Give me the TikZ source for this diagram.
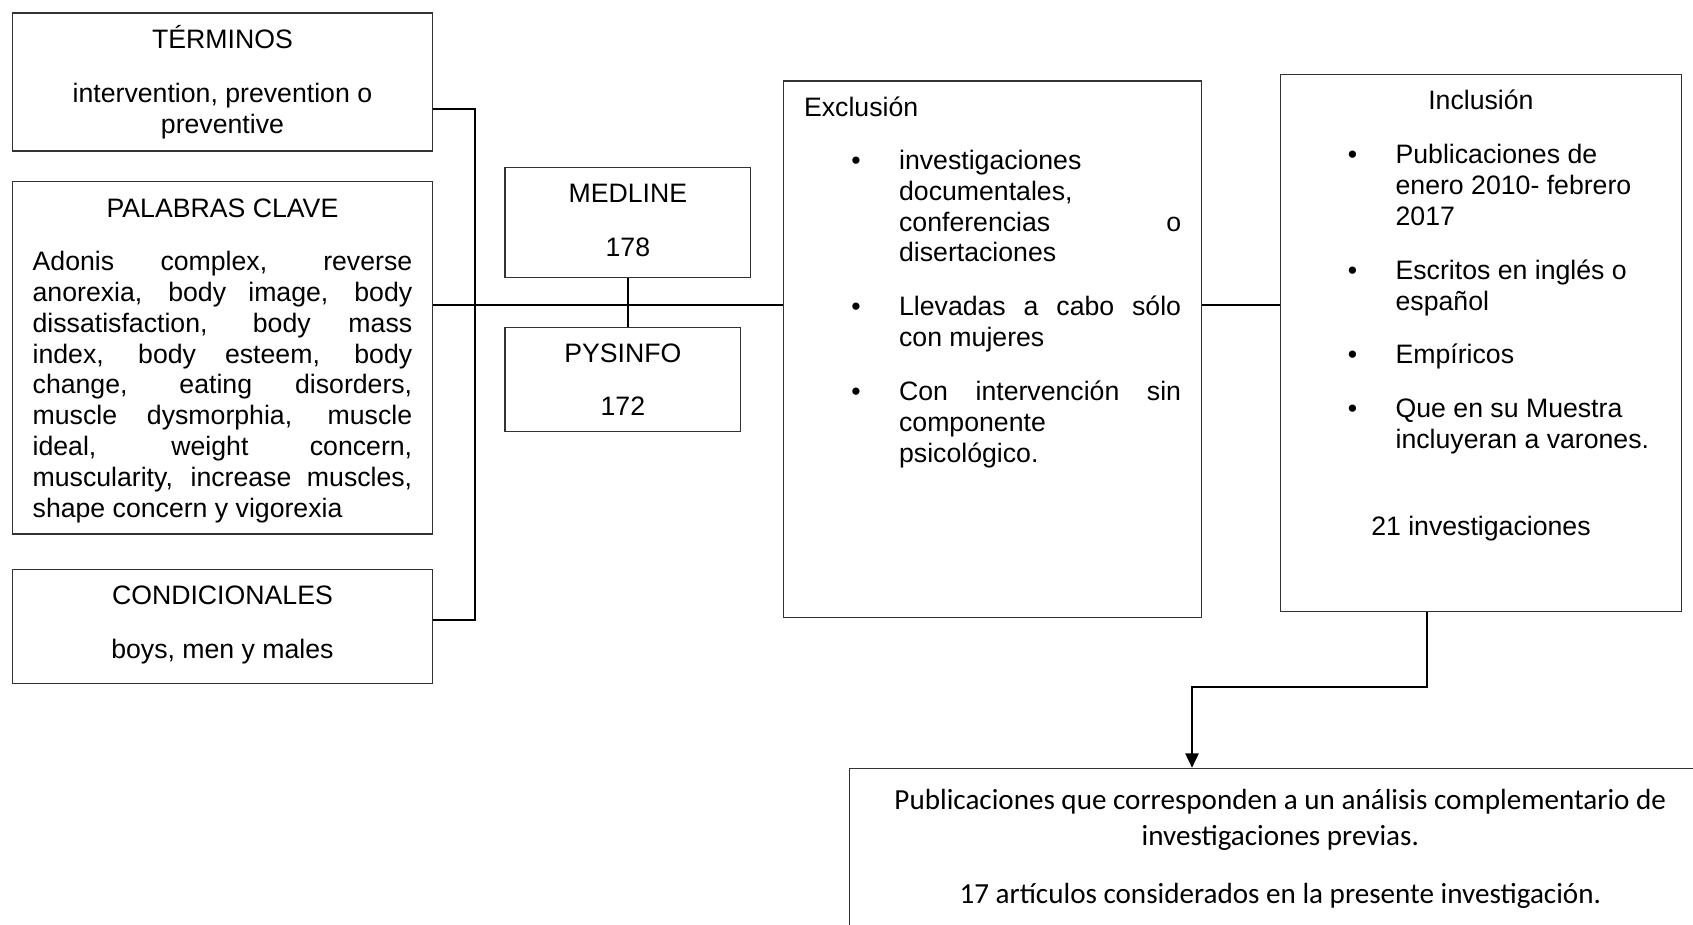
\documentclass[tikz,border=0pt]{standalone}
\usepackage{fontspec}
\setmainfont{Liberation Sans}
\newfontfamily\calibri{Carlito}
\usetikzlibrary{arrows.meta}

\newcommand{\nat}{\spaceskip=\fontdimen2\font\xspaceskip=\fontdimen2\font\relax}
\newcommand{\bul}{\makebox[42.75pt][l]{\hspace{21.3pt}\textbullet}}
\newcommand{\ind}{\hspace*{42.75pt}}
\newcommand{\jl}[1]{\makebox[\linewidth][s]{\spaceskip=.278em plus 1fil\relax#1}}
\newcommand{\jb}[1]{\makebox[126.9pt][s]{\spaceskip=.278em plus 1fil\relax#1}}

\begin{document}
\begin{tikzpicture}[x=0.45pt,y=-0.45pt,
    box/.style={draw=black!80,line width=0.6pt,anchor=north west,inner ysep=0pt,inner xsep=9pt,
      align=left,font=\fontsize{12}{13.9}\selectfont},
    link/.style={line width=0.9pt}]
        \useasboundingbox (0,0) rectangle (1693,925);
        \clip (0,0) rectangle (1693,925);
        \node[box,align=center,text width=170.8pt,text height=15.75pt,text depth=46.35pt] (term) at (12,12.5)
          {\nat TÉRMINOS\\[10.5pt]intervention, prevention o\\preventive};
        \node[box,text width=170.8pt,text height=16pt,text depth=142.5pt] (pal) at (12,181)
          {\nat\makebox[\linewidth]{PALABRAS CLAVE}\\[10pt]
           \jl{Adonis complex, reverse}\\\jl{anorexia, body image, body}\\
           \jl{dissatisfaction, body mass}\\\jl{index, body esteem, body}\\
           \jl{change, eating disorders,}\\\jl{muscle dysmorphia, muscle}\\
           \jl{ideal, weight concern,}\\\jl{muscularity, increase muscles,}\\
           shape concern y vigorexia};
        \node[box,align=center,text width=170.8pt,text height=15.75pt,text depth=35.55pt] (cond) at (12,568.5)
          {\nat CONDICIONALES\\[10.5pt]boys, men y males};
        \node[box,align=center,text width=92.6pt,text height=16pt,text depth=33.5pt] (med) at (504.3,166.7)
          {\nat MEDLINE\\[10pt]178};
        \node[box,align=center,text width=88.1pt,text height=15.75pt,text depth=31.05pt] (pys) at (504.3,326.7)
          {\nat PYSINFO\\[10pt]172};
        \node[box,inner xsep=9.2pt,text width=169.7pt,text height=15.75pt,text depth=225.45pt] (excl) at (783,80.5)
          {\nat Exclusión\\[10pt]
           \bul investigaciones\\\ind documentales,\\\ind\jb{conferencias o}\\\ind disertaciones\\[10.3pt]
           \bul\jb{Llevadas a cabo sólo}\\\ind con mujeres\\[10.3pt]
           \bul\jb{Con intervención sin}\\\ind componente\\\ind psicológico.};
        \node[box,inner xsep=9.2pt,text width=162.3pt,text height=15.75pt,text depth=225.9pt] (incl) at (1279.5,74)
          {\nat\makebox[\linewidth]{Inclusión}\\[10.4pt]
           \bul Publicaciones de\\\ind enero 2010- febrero\\\ind 2017\\[10.3pt]
           \bul Escritos en inglés o\\\ind español\\[10.3pt]
           \bul Empíricos\\[10.3pt]
           \bul Que en su Muestra\\\ind incluyeran a varones.\\[25.3pt]
           \makebox[\linewidth]{21 investigaciones}};
        \node[box,align=center,font=\calibri\fontsize{13.1}{16}\selectfont,text width=369.9pt,text height=18.5pt,text depth=69pt] (res) at (848.6,767.7)
          {\nat Publicaciones que corresponden a un análisis complementario de\\investigaciones previas.\\[10.5pt]
           17 artículos considerados en la presente investigación.};
        \coordinate (top) at (475,109);
        \coordinate (hub) at (475,305.5);
        \coordinate (bot) at (475,619.5);
        \coordinate (kneeA) at (1427,687);
        \coordinate (kneeB) at (1192,687);
        \draw[link] (term.east |- top) -- (top) -- (bot) -- (cond.east |- bot);
        \draw[link] (pal.east |- hub) -- (excl.west |- hub);
        \draw[link] (med.south) -- (med.south |- pys.north);
        \draw[link] (excl.east |- hub) -- (incl.west |- hub);
        \draw[link,-{Triangle[length=6.5pt,width=6pt]}] (incl.south -| kneeA) -- (kneeA) -- (kneeB) -- (kneeB |- res.north);
      \end{tikzpicture}
\end{document}
